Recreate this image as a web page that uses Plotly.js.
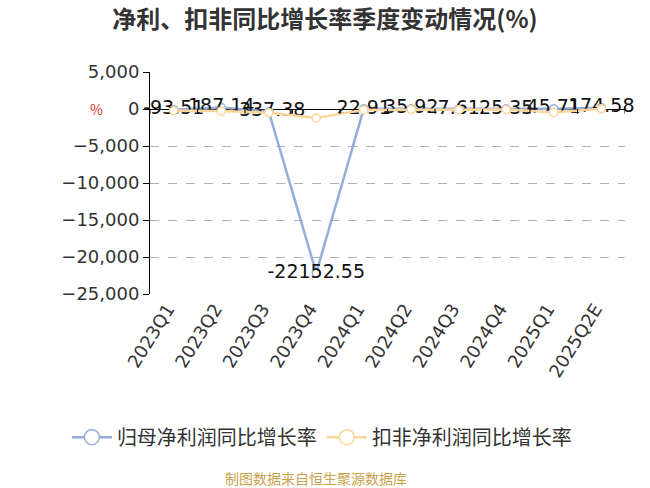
<!DOCTYPE html>
<html>
<head>
<meta charset="utf-8">
<script src="https://cdn.plot.ly/plotly-3.0.1.min.js"></script>
<style>
  body { margin: 0; background: #fff; }
  #chart { width: 650px; height: 488px; }
</style>
</head>
<body>
<div id="chart"></div>
<script>
// quarters on the x axis
const quarters = ['2023Q1', '2023Q2', '2023Q3', '2023Q4', '2024Q1', '2024Q2', '2024Q3', '2024Q4', '2025Q1', '2025Q2E'];

// 归母净利润同比增长率 (%), labelled in the chart
const netProfitGrowth = [-93.51, 187.14, -337.38, -22152.55, 22.91, 35.92, 7.61, 25.35, 45.71, 174.58];

// 扣非净利润同比增长率 (%) (no labels)
const deductedGrowth = [-250, -280, -520, -1200, -120, -80, -100, -60, -480, 30];

const seriesNames = ['归母净利润同比增长率', '扣非净利润同比增长率'];
const seriesColors = ['#94aedb', '#fdd59a'];

const cjk = '"Noto Sans CJK SC", "Noto Sans", sans-serif';
const num = '"DejaVu Sans", "Noto Sans CJK SC", sans-serif';

const data = [
  {
    x: quarters,
    y: netProfitGrowth,
    name: seriesNames[0],
    type: 'scatter',
    mode: 'lines+markers+text',
    text: netProfitGrowth.map(v => v.toFixed(2)),
    textposition: 'middle center',
    textfont: { size: 19, color: '#111', family: num },
    cliponaxis: false,
    showlegend: false,
    line: { color: seriesColors[0], width: 2.5 },
    marker: { size: 8, color: '#fff', line: { color: seriesColors[0], width: 1.5 } },
  },
  {
    x: quarters,
    y: deductedGrowth,
    name: seriesNames[1],
    type: 'scatter',
    mode: 'lines+markers',
    cliponaxis: false,
    showlegend: false,
    line: { color: seriesColors[1], width: 2.5 },
    marker: { size: 8, color: '#fff', line: { color: seriesColors[1], width: 1.5 } },
  },
];

// legend-only entries so the legend circles can be drawn bigger
seriesNames.forEach((name, i) => {
  data.push({
    x: [null], y: [null],
    name: name,
    type: 'scatter',
    mode: 'lines+markers',
    line: { color: seriesColors[i], width: 2.5 },
    marker: { size: 15, color: '#fff', line: { color: seriesColors[i], width: 1.5 } },
  });
});

// small tick marks hanging from the zero line between categories
const shapes = [];
for (let i = 0; i <= quarters.length; i++) {
  shapes.push({
    type: 'line', xref: 'x', yref: 'y',
    x0: i - 0.5, x1: i - 0.5, y0: 0, y1: -650,
    line: { color: '#000', width: 1 },
  });
}

const layout = {
  width: 650,
  height: 488,
  margin: { l: 150, r: 25, t: 72, b: 194 },
  paper_bgcolor: '#fff',
  plot_bgcolor: '#fff',
  font: { family: cjk, color: '#333' },
  title: {
    text: '<b>净利、扣非同比增长率季度变动情况(%)</b>',
    font: { size: 24, color: '#333', family: cjk },
    x: 0.5, xanchor: 'center', y: 0.959, yanchor: 'middle',
  },
  showlegend: true,
  legend: {
    orientation: 'h',
    x: -0.175, xanchor: 'left',
    y: -0.645, yanchor: 'middle',
    font: { size: 20, color: '#333' },
    itemwidth: 40,
  },
  xaxis: {
    type: 'category',
    range: [-0.5, quarters.length - 0.5],
    tickangle: -58,
    tickfont: { size: 18, color: '#333', family: num },
    ticklabelshift: -6,
    showgrid: false,
    showline: false,
    ticks: '',
    zeroline: false,
  },
  yaxis: {
    range: [-25000, 5000],
    dtick: 5000,
    tickformat: ',d',
    tickfont: { size: 18, color: '#333', family: num },
    showgrid: true,
    gridcolor: '#b0b0b0',
    griddash: 'dash',
    gridwidth: 1,
    showline: true,
    linecolor: '#000',
    linewidth: 1,
    ticks: 'outside',
    ticklen: 6,
    tickcolor: '#000',
    zeroline: true,
    zerolinecolor: '#000',
    zerolinewidth: 1,
  },
  shapes: shapes,
  annotations: [
    {
      text: '%', xref: 'paper', yref: 'y', x: -0.112, y: 0, xanchor: 'center',
      showarrow: false, font: { size: 14, color: '#e03030' },
    },
    {
      text: '制图数据来自恒生聚源数据库', xref: 'paper', yref: 'paper',
      x: 0.35, y: -0.829, xanchor: 'center', yanchor: 'middle',
      showarrow: false, font: { size: 14, color: '#c9a24a' },
    },
  ],
};

Plotly.newPlot('chart', data, layout, { displayModeBar: false });
</script>
</body>
</html>
